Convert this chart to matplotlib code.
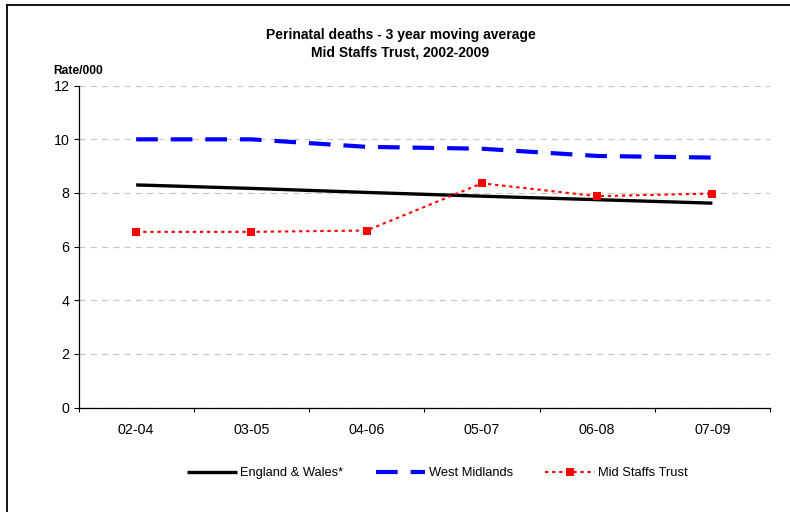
import matplotlib.pyplot as plt
import matplotlib.lines as mlines
import numpy as np

plt.rcParams['font.family'] = ['Liberation Sans', 'DejaVu Sans']

periods = ["02-04", "03-05", "04-06", "05-07", "06-08", "07-09"]
england_wales = [8.30, 8.17, 8.02, 7.88, 7.75, 7.62]
west_midlands = [10.0, 10.0, 9.72, 9.65, 9.38, 9.32]
mid_staffs = [6.55, 6.55, 6.60, 8.36, 7.88, 7.98]

fig = plt.figure(figsize=(7.9, 5.12), dpi=100)
ax = fig.add_axes([0.0994, 0.2041, 0.8753, 0.6285])

x = np.arange(len(periods))
ax.plot(x, england_wales, color='black', lw=2.4, solid_capstyle='butt',
        label='England & Wales*')
ax.plot(x, west_midlands, color='#0000ff', lw=3.0, dashes=(5.2, 3.1),
        label='West Midlands')
ax.plot(x, mid_staffs, color='#ff0000', lw=1.5, dashes=(1.6, 1.8),
        marker='s', markersize=6, markeredgewidth=0,
        label='Mid Staffs Trust')

ax.set_xlim(-0.5, len(periods) - 0.5)
ax.set_ylim(0, 12)
ax.set_yticks(range(0, 13, 2))
ax.set_xticks(x)
ax.set_xticklabels(periods)
ax.set_xticks(np.arange(-0.5, len(periods)), minor=True)
ax.tick_params(axis='x', which='major', length=0, pad=11, labelsize=10.3)
ax.tick_params(axis='x', which='minor', length=3, width=0.8)
ax.tick_params(axis='y', length=3.5, width=0.8, labelsize=10.3, pad=3)

ax.yaxis.grid(True, color='#c8c8c8', lw=0.9, dashes=(5, 4))
ax.set_axisbelow(True)
for side in ['top', 'right']:
    ax.spines[side].set_visible(False)
ax.spines['left'].set_linewidth(0.9)
ax.spines['bottom'].set_linewidth(0.9)

fig.text(0.507, 0.932, "Perinatal deaths - 3 year moving average",
         ha='center', va='center', fontsize=10, fontweight='bold')
fig.text(0.507, 0.897, "Mid Staffs Trust, 2002-2009",
         ha='center', va='center', fontsize=10, fontweight='bold')
fig.text(0.068, 0.862, "Rate/000", ha='left', va='center',
         fontsize=8.7, fontweight='bold')

ax.legend(loc='center', bbox_to_anchor=(0.519, -0.205), ncol=3, frameon=False,
          fontsize=9.3, handlelength=3.85, handletextpad=0.25, columnspacing=2.5)

# border around the chart area (top and left)
fig.add_artist(mlines.Line2D([0.009, 1.0], [0.99, 0.99], color='black', lw=1.3,
                             transform=fig.transFigure))
fig.add_artist(mlines.Line2D([0.009, 0.009], [0.0, 0.99], color='black', lw=1.3,
                             transform=fig.transFigure))

fig.savefig("out.png", dpi=100)
